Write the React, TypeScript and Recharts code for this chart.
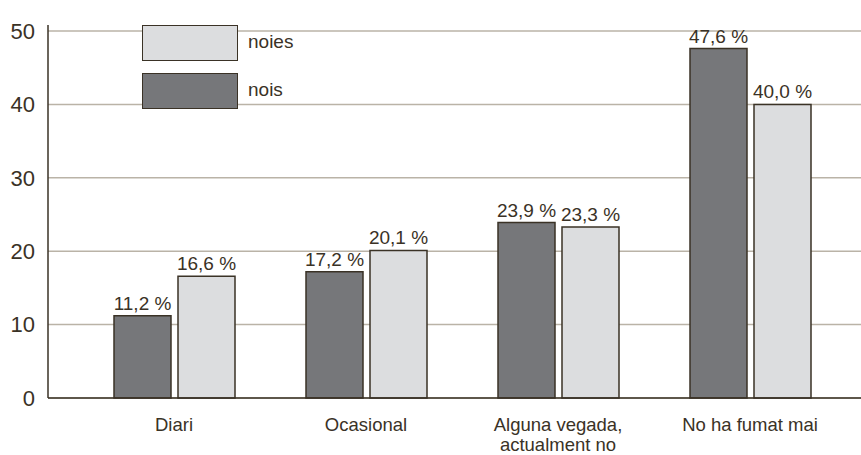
import { BarChart, Bar, XAxis, YAxis, CartesianGrid, LabelList } from 'recharts';

const categories = ['Diari', 'Ocasional', 'Alguna vegada, actualment no', 'No ha fumat mai'];
const nois = [11.2, 17.2, 23.9, 47.6];
const noies = [16.6, 20.1, 23.3, 40.0];
const yTicks = [0, 10, 20, 30, 40, 50];

const data = categories.map((cat, i) => ({ cat, nois: nois[i], noies: noies[i] }));

const INK = '#3a3226';
const DARK = '#76777a';
const LIGHT = '#dcdddf';
const GRID = '#bab3a7';
const FONT = '"Liberation Sans", Arial, sans-serif';

const fmt = (v: any) => Number(v).toFixed(1).replace('.', ',') + ' %';

const CatTick = (props: any) => {
  const { x, y, payload } = props;
  const text: string = payload.value;
  const lines = text.includes(', ') ? [text.split(', ')[0] + ',', text.split(', ')[1]] : [text];
  return (
    <text x={x} y={y} textAnchor="middle" fill={INK} fontSize={18.5} fontFamily={FONT}>
      {lines.map((l, i) => (
        <tspan key={i} x={x} dy={i === 0 ? 25 : 20}>
          {l}
        </tspan>
      ))}
    </text>
  );
};

const legendItems = [
  { name: 'noies', color: LIGHT },
  { name: 'nois', color: DARK },
];

const ChartLegend = () => (
  <div style={{ position: 'absolute', left: 142, top: 25, fontFamily: FONT, fontSize: 19, color: INK }}>
    {legendItems.map((it, i) => (
      <div key={it.name} style={{ display: 'flex', alignItems: 'flex-start', marginBottom: i === 0 ? 12 : 0 }}>
        <div
          style={{
            width: 94,
            height: 34,
            background: it.color,
            border: `1.5px solid ${INK}`,
          }}
        />
        <span style={{ marginLeft: 10, marginTop: 7, lineHeight: '20px' }}>{it.name}</span>
      </div>
    ))}
  </div>
);

const App = () => {
  return (
    <div style={{ position: 'absolute', left: 0, top: 0, width: 861, height: 455, background: '#fff' }}>
      <BarChart
        width={861}
        height={455}
        data={data}
        margin={{ top: 25, right: 0, bottom: 0, left: 0 }}
        barCategoryGap={35}
        barGap={7}
      >
        <CartesianGrid vertical={false} horizontalValues={yTicks} stroke={GRID} strokeWidth={1.5} />
        <XAxis
          dataKey="cat"
          height={57}
          tick={<CatTick />}
          tickLine={false}
          axisLine={{ stroke: INK, strokeWidth: 1.5 }}
          padding={{ left: 30, right: 15 }}
          interval={0}
        />
        <YAxis
          width={48}
          domain={[0, 50]}
          ticks={yTicks}
          tickLine={false}
          tickSize={0}
          tickMargin={13}
          padding={{ top: 6 }}
          axisLine={{ stroke: INK, strokeWidth: 1.5 }}
          tick={{ fill: INK, fontSize: 22, fontFamily: FONT }}
        />
        <Bar dataKey="nois" name="nois" fill={DARK} stroke={INK} strokeWidth={1.5} barSize={57} isAnimationActive={false}>
          <LabelList dataKey="nois" position="top" offset={6} formatter={fmt} fill={INK} fontSize={19} fontFamily={FONT} />
        </Bar>
        <Bar dataKey="noies" name="noies" fill={LIGHT} stroke={INK} strokeWidth={1.5} barSize={57} isAnimationActive={false}>
          <LabelList dataKey="noies" position="top" offset={6} formatter={fmt} fill={INK} fontSize={19} fontFamily={FONT} />
        </Bar>
      </BarChart>
      <ChartLegend />
    </div>
  );
};

export default App;
